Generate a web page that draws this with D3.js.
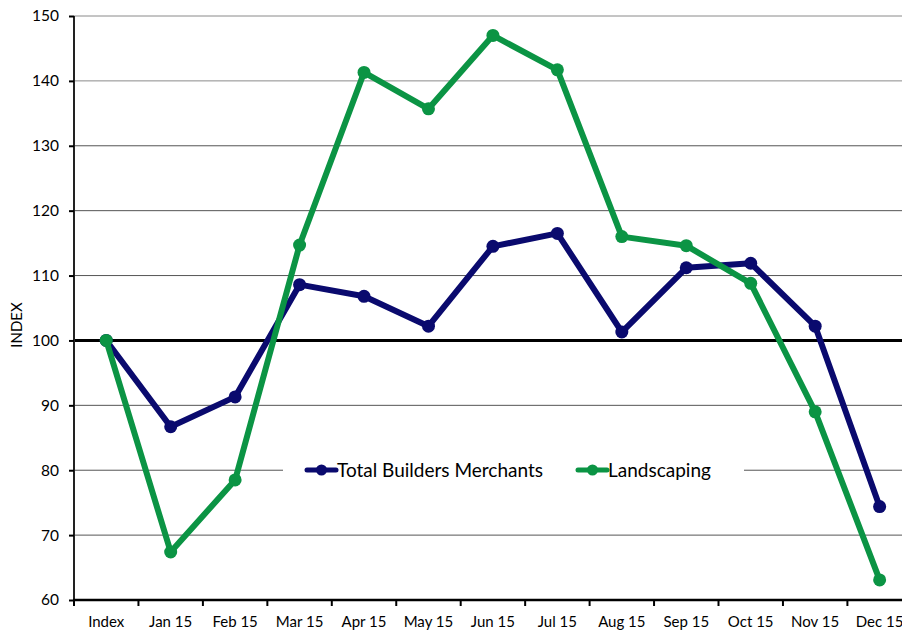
<!DOCTYPE html>
<html><head><meta charset="utf-8">
<script src="https://cdn.jsdelivr.net/npm/d3@7"></script>
<style>body{margin:0;background:#fff;}svg{display:block;font-family:Lato,"Open Sans",sans-serif;}</style>
</head><body>
<svg id="c" width="902" height="631"></svg>
<script>
const categories = ["Index","Jan 15","Feb 15","Mar 15","Apr 15","May 15","Jun 15","Jul 15","Aug 15","Sep 15","Oct 15","Nov 15","Dec 15"];
const totalBuilders = [100,86.7,91.3,108.6,106.8,102.2,114.5,116.5,101.3,111.2,111.9,102.2,74.4];
const landscaping = [100,67.4,78.5,114.7,141.3,135.7,147.0,141.7,116.0,114.6,108.8,89.0,63.1];
const yTicks = [60,70,80,90,100,110,120,130,140,150];
const seriesNames = ["Total Builders Merchants","Landscaping"];
const colors = ["#0a0a6e","#0b9444"];

(function(){
const svg = d3.select("#c");
const pLeft = 74, pTop = 16, pBottom = 600, bandW = 64.45, pRight = 902;
const x = d3.scaleBand().domain(categories).range([pLeft, pLeft + bandW*categories.length]).paddingInner(0).paddingOuter(0);
const y = d3.scaleLinear().domain([60,150]).range([pBottom, pTop]);

// gridlines
svg.append("g").selectAll("line").data(yTicks.filter(d=>d!==60)).join("line")
  .attr("x1", pLeft).attr("x2", pRight).attr("y1", d=>y(d)).attr("y2", d=>y(d))
  .attr("stroke", d=> d>=140 ? "#8a8a8a" : "#555").attr("stroke-width",1);

// reference line at 100
svg.append("line").attr("x1",pLeft).attr("x2",pRight).attr("y1",y(100)).attr("y2",y(100))
  .attr("stroke","#000").attr("stroke-width",3);

// y axis
const yAxis = d3.axisLeft(y).tickValues(yTicks).tickSize(5).tickPadding(10);
const gy = svg.append("g").attr("transform",`translate(${pLeft},0)`).call(yAxis);
gy.select(".domain").attr("stroke","#222").attr("stroke-width",2).attr("d",`M0,${pBottom}V${pTop}`);
gy.selectAll(".tick line").attr("stroke","#000").attr("stroke-width",2);
gy.selectAll("text").attr("font-size",15.5).attr("fill","#000").style("font-family","Lato,sans-serif");

// x axis
const gx = svg.append("g").attr("transform",`translate(0,${pBottom})`);
gx.append("line").attr("x1",pLeft-1).attr("x2",pRight).attr("y1",0).attr("y2",0).attr("stroke","#000").attr("stroke-width",2.5);
const boundaries = d3.range(categories.length+1).map(i=> pLeft + i*x.step());
gx.selectAll("line.t").data(boundaries).join("line").attr("class","t")
  .attr("x1",d=>d).attr("x2",d=>d).attr("y1",0).attr("y2",6).attr("stroke","#000").attr("stroke-width",2);
gx.selectAll("text").data(categories).join("text")
  .attr("x",d=>x(d)+x.bandwidth()/2).attr("y",27).attr("text-anchor","middle")
  .attr("font-size",15).attr("fill","#000").text(d=>d);

// y label
svg.append("text").attr("transform","translate(22,325) rotate(-90)").attr("text-anchor","middle")
  .attr("font-size",15).attr("fill","#000").text("INDEX");

// legend background
svg.append("rect").attr("x",283).attr("y",452).attr("width",461).attr("height",36).attr("fill","#fff");

// series
const line = d3.line().x((d,i)=>x(categories[i])+x.bandwidth()/2).y(d=>y(d));
[totalBuilders, landscaping].forEach((s,k)=>{
  const g = svg.append("g");
  g.append("path").datum(s).attr("d",line).attr("fill","none").attr("stroke",colors[k])
    .attr("stroke-width",6).attr("stroke-linejoin","round");
  g.selectAll("circle").data(s).join("circle")
    .attr("cx",(d,i)=>x(categories[i])+x.bandwidth()/2).attr("cy",d=>y(d)).attr("r",6.5).attr("fill",colors[k]);
});

// legend
const legX = [307, 578];
seriesNames.forEach((n,k)=>{
  const g = svg.append("g").attr("transform",`translate(${legX[k]},470)`);
  g.append("line").attr("x1",0).attr("x2",29).attr("y1",0).attr("y2",0).attr("stroke",colors[k]).attr("stroke-width",5).attr("stroke-linecap","round");
  g.append("circle").attr("cx",14.5).attr("cy",0).attr("r",5.5).attr("fill",colors[k]);
  g.append("text").attr("x",30).attr("y",7).attr("font-size",19).attr("fill","#000").text(n);
});
})();
</script>
</body></html>
